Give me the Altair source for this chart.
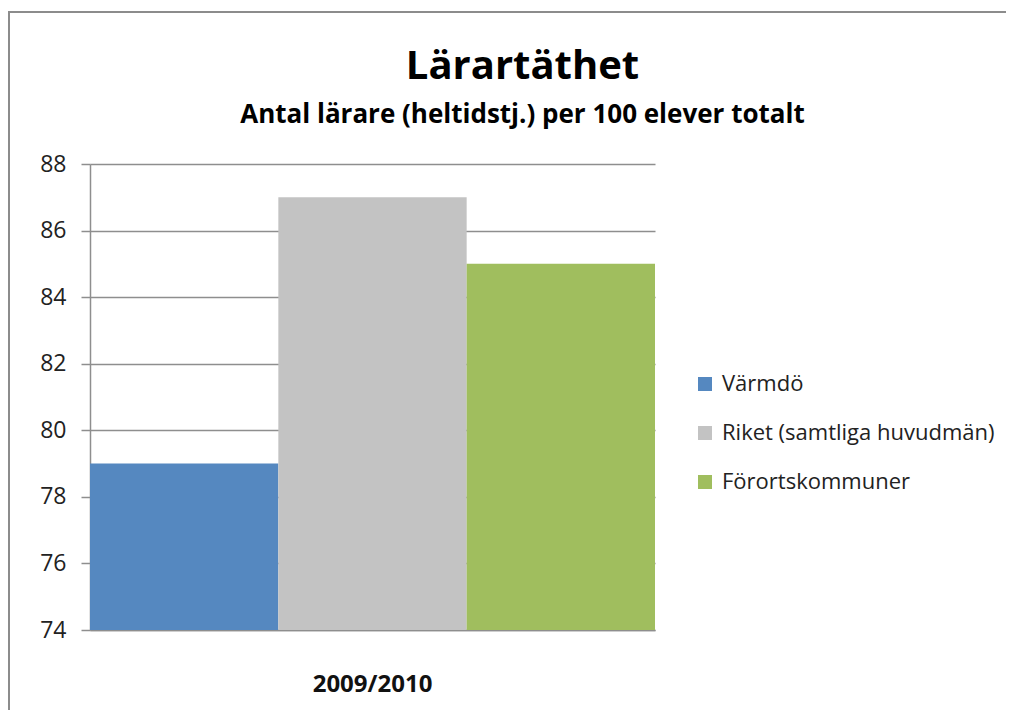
import altair as alt
import pandas as pd

years = ["2009/2010", "2009/2010", "2009/2010"]
series = ["Värmdö", "Riket (samtliga huvudmän)", "Förortskommuner"]
values = [79, 87, 85]
colors = ["#5588C0", "#C3C3C3", "#A0BE5E"]
y_ticks = [74, 76, 78, 80, 82, 84, 86, 88]

df = pd.DataFrame({"year": years, "series": series, "value": values})

FONT = "Open Sans"
W, H = 565, 466

bars = alt.Chart(df).mark_bar().encode(
    x=alt.X("year:N", title=None,
            scale=alt.Scale(paddingInner=0, paddingOuter=0),
            axis=alt.Axis(labelAngle=0, ticks=False, grid=False, domain=True,
                          domainColor="#8e8e8e", domainWidth=1.5,
                          labelFontSize=24, labelFontWeight="bold",
                          labelFont=FONT, labelColor="#111111", labelPadding=42)),
    xOffset=alt.XOffset("series:N", sort=series,
                        scale=alt.Scale(paddingInner=0, paddingOuter=0)),
    y=alt.Y("value:Q", title=None,
            scale=alt.Scale(domain=[74, 88], nice=False, zero=False),
            axis=alt.Axis(values=y_ticks, tickSize=9, tickColor="#8e8e8e", tickWidth=1.5,
                          grid=True, gridColor="#8e8e8e", gridWidth=1.5,
                          domainColor="#8e8e8e", domainWidth=1.5,
                          labelFontSize=23, labelFont=FONT, labelColor="#222222",
                          labelPadding=15)),
    y2=alt.datum(74),
    color=alt.Color("series:N", sort=series,
                    scale=alt.Scale(domain=series, range=colors),
                    legend=alt.Legend(title=None, orient="none", legendX=604, legendY=209,
                                      symbolType="square", symbolSize=196,
                                      symbolStrokeWidth=0, labelFontSize=22,
                                      labelFont=FONT, labelColor="#222222",
                                      labelLimit=500, rowPadding=27, labelOffset=6)),
)

border_v = alt.Chart(df).mark_rule(color="#8c8c8c", strokeWidth=2).encode(
    x=alt.value(-81), y=alt.value(-152), y2=alt.value(560)
)
border_h = alt.Chart(df).mark_rule(color="#8c8c8c", strokeWidth=2).encode(
    x=alt.value(-82), x2=alt.value(930), y=alt.value(-152)
)

chart = alt.layer(border_v, border_h, bars).properties(
    width=W, height=H,
    title=alt.TitleParams(
        text="Lärartäthet",
        subtitle="Antal lärare (heltidstj.) per 100 elever totalt",
        anchor="middle", dx=150, offset=-117,
        font=FONT, fontSize=40, fontWeight="bold", color="#000000",
        subtitleFont=FONT, subtitleFontSize=26, subtitleFontWeight="bold",
        subtitleColor="#000000", subtitlePadding=15,
    ),
    autosize=alt.AutoSizeParams(type="none"),
    padding={"left": 82, "top": 156, "right": 351, "bottom": 80},
).configure(background="white").configure_view(strokeWidth=0)

chart.save("out.html", embed_options={"renderer": "svg", "actions": False})
